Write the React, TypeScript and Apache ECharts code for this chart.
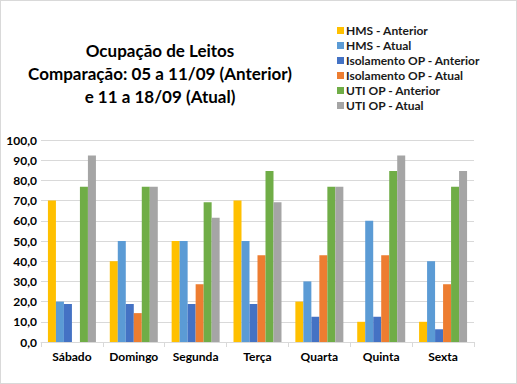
import React, { useEffect, useRef } from "react";
import * as echarts from "echarts";

const categories = ["Sábado", "Domingo", "Segunda", "Terça", "Quarta", "Quinta", "Sexta"];
const seriesNames = [
  "HMS - Anterior",
  "HMS - Atual",
  "Isolamento OP - Anterior",
  "Isolamento OP - Atual",
  "UTI OP - Anterior",
  "UTI OP - Atual",
];
const hmsAnterior = [70, 40, 50, 70, 20, 10, 10];
const hmsAtual = [20, 50, 50, 50, 30, 60, 40];
const isoAnterior = [18.8, 18.8, 18.8, 18.8, 12.5, 12.5, 6.3];
const isoAtual = [0, 14.3, 28.6, 42.9, 42.9, 42.9, 28.6];
const utiAnterior = [76.9, 76.9, 69.2, 84.6, 76.9, 84.6, 76.9];
const utiAtual = [92.3, 76.9, 61.5, 69.2, 76.9, 92.3, 84.6];
const colors = ["#FFC000", "#5B9BD5", "#4472C4", "#ED7D31", "#70AD47", "#A5A5A5"];
const titleLines = ["Ocupação de Leitos", "Comparação: 05 a 11/09 (Anterior)", "e 11 a 18/09 (Atual)"];

const FONT = "Lato, 'Noto Sans', sans-serif";

export default function App() {
  const ref = useRef<HTMLDivElement>(null);
  useEffect(() => {
    if (!ref.current) return;
    const chart = echarts.init(ref.current, null, { renderer: "svg" });
    const data = [hmsAnterior, hmsAtual, isoAnterior, isoAtual, utiAnterior, utiAtual];
    chart.setOption({
      animation: false,
      backgroundColor: "#fff",
      color: colors,
      textStyle: { fontFamily: FONT },
      title: {
        text: titleLines.join("\n"),
        left: 154,
        top: 33,
        textAlign: "center",
        textStyle: {
          fontFamily: FONT,
          fontSize: 17,
          fontWeight: "bold",
          color: "#000",
          lineHeight: 23,
        },
      },
      legend: {
        orient: "vertical",
        left: 331,
        top: 17,
        icon: "rect",
        itemWidth: 7,
        itemHeight: 7,
        itemGap: 0,
        data: seriesNames,
        textStyle: {
          fontFamily: FONT,
          fontSize: 12,
          fontWeight: "bold",
          color: "#1a1a1a",
          lineHeight: 15,
          padding: [0, 0, 0, -3],
        },
      },
      grid: { left: 40, right: 42, top: 139, bottom: 41, containLabel: false },
      xAxis: {
        type: "category",
        data: categories,
        axisLine: { lineStyle: { color: "#d9d9d9" } },
        axisTick: { show: true, length: 5, lineStyle: { color: "#d9d9d9" } },
        axisLabel: {
          interval: 0,
          fontFamily: FONT,
          fontSize: 12,
          fontWeight: "bold",
          color: "#000",
          margin: 8,
        },
      },
      yAxis: {
        type: "value",
        min: 0,
        max: 100,
        interval: 10,
        axisLine: { show: false },
        axisTick: { show: false },
        splitLine: { lineStyle: { color: "#d9d9d9" } },
        axisLabel: {
          fontFamily: FONT,
          fontSize: 12,
          fontWeight: "bold",
          color: "#000",
          margin: 4,
          formatter: (v: number) => v.toFixed(1).replace(".", ","),
        },
      },
      series: seriesNames.map((name, i) => ({
        name,
        type: "bar",
        data: data[i],
        barWidth: 8,
        barGap: "0%",
        itemStyle: { color: colors[i] },
      })),
    });
    return () => chart.dispose();
  }, []);
  return (
    <div
      style={{
        position: "fixed",
        left: 0,
        top: 0,
        width: 517,
        height: 384,
        boxSizing: "border-box",
        border: "1px solid #d9d9d9",
        background: "#fff",
      }}
    >
      <div ref={ref} style={{ width: 515, height: 382 }} />
    </div>
  );
}
